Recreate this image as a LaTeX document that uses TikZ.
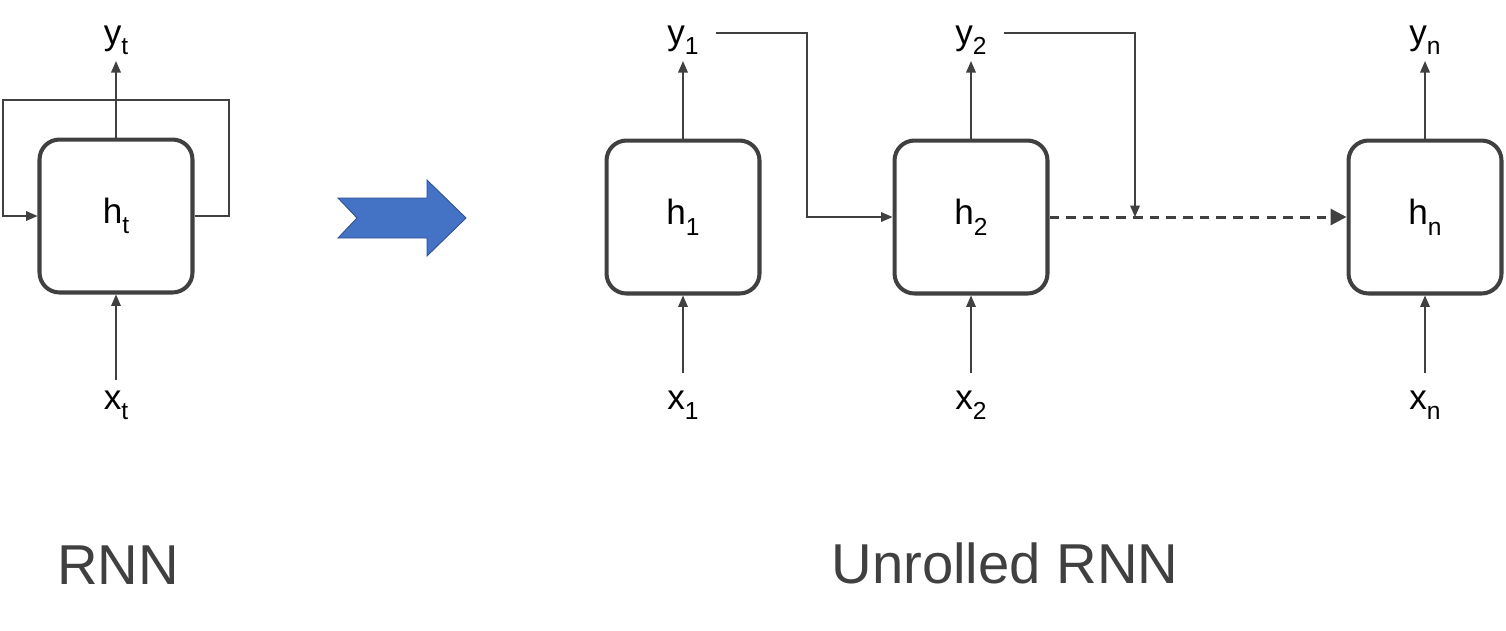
\documentclass[tikz,border=0pt]{standalone}
\usepackage{fontspec}
\setmainfont{Liberation Sans}
\usetikzlibrary{arrows.meta}
\definecolor{darkgrey}{HTML}{404040}
\definecolor{arrowblue}{HTML}{4472C4}
\definecolor{arrowedge}{HTML}{2F528F}
\newcommand{\lowsub}[1]{\raisebox{-0.3em}{\fontsize{14}{14}\selectfont #1}}
\begin{document}
\begin{tikzpicture}[x=0.02cm,y=-0.02cm,
  cell/.style = {draw=darkgrey, line width=2.3pt, rounded corners=0.4cm,
    minimum width=3.06cm, minimum height=3.06cm, inner sep=0pt,
    font=\fontsize{20}{22}\selectfont},
  lbl/.style = {inner sep=0pt, outer sep=7pt, text height=0.75em, text depth=0.25em,
    font=\fontsize{20}{22}\selectfont},
  title/.style = {anchor=base, text=darkgrey, font=\fontsize{32}{36}\selectfont},
  conn/.style = {draw=darkgrey, line width=0.7pt, -{Triangle[length=6.5pt,width=5.5pt]}},
  dashconn/.style = {conn, line width=1.7pt, dash pattern=on 5.5pt off 4pt,
    -{Triangle[length=9pt,width=9pt]}}]
\useasboundingbox (0,0) rectangle (1506,630);

% folded RNN
\node[cell] (ht) at (116,216) {h\lowsub{t}};
\node[lbl] (yt) at (116,40) {y\lowsub{t}};
\node[lbl, outer sep=9pt] (xt) at (116,405) {x\lowsub{t}};
\draw[conn] (ht.north) -- (yt.south);
\draw[conn] (xt.north) -- (ht.south);
\draw[conn] (ht.east) -| (229,100) -| (3,216) -- (ht.west);

% big arrow
\filldraw[fill=arrowblue, draw=arrowedge, line width=0.5pt]
  (338,198) -- (427,198) -- (427,180) -- (466,218) -- (427,256)
  -- (427,238) -- (338,238) -- (357,218) -- cycle;

% unrolled RNN
\foreach \n/\i/\x in {1/1/683, 2/2/971, n/n/1425} {
  \node[cell] (h\n) at (\x,217) {h\lowsub{\i}};
  \node[lbl] (y\n) at (\x,40) {y\lowsub{\i}};
  \node[lbl, outer sep=13pt] (x\n) at (\x,405) {x\lowsub{\i}};
  \draw[conn] (h\n.north) -- (y\n.south);
  \draw[conn] (x\n.north) -- (h\n.south);
}
\coordinate (m) at (1135,217);
\draw[conn] ([xshift=3pt,yshift=4pt]y1.east) -| (807,217) -- (h2.west);
\draw[dashconn] (h2.east) -- (hn.west);
\draw[conn] ([xshift=3pt,yshift=4pt]y2.east) -| (m);

\node[title] (rnn) at (118,584) {RNN};
\node[title] (unrolled) at (1005,583) {Unrolled RNN};
\end{tikzpicture}
\end{document}
